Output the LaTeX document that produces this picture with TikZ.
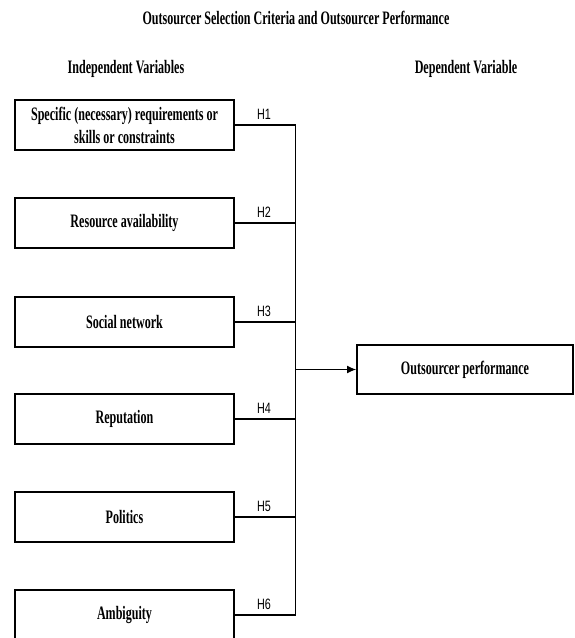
\documentclass[tikz,border=0pt]{standalone}
\usepackage{fontspec}
\setmainfont{Liberation Serif}
\newfontfamily\condserif[FakeStretch=0.635]{Liberation Serif Bold}
\newfontfamily\condsans[FakeStretch=0.72]{Liberation Sans}
\usetikzlibrary{arrows.meta}
\tikzset{
  serifbold/.style={font=\condserif\fontsize{19}{23}\selectfont},
  varbox/.style={draw, line width=2pt, rectangle, minimum width=219pt, minimum height=50pt, inner sep=0pt, align=center, serifbold},
  outbox/.style={draw, line width=2pt, rectangle, minimum width=216pt, minimum height=49pt, inner sep=0pt, align=center, serifbold},
  heading/.style={inner sep=0pt, serifbold},
  hlabel/.style={inner sep=0pt, font=\condsans\fontsize{15}{17}\selectfont},
  hline/.style={line width=1.8pt},
  vline/.style={line width=1pt},
}
\begin{document}
\begin{tikzpicture}[x=1pt,y=-1pt]
\clip (0,0) rectangle (574,638);
\fill[white] (0,0) rectangle (574,638);
\node[heading] (title) at (296,18) {Outsourcer Selection Criteria and Outsourcer Performance};
\node[heading] (indep) at (126,69) {Independent Variables};
\node[heading] (dep) at (466,69) {Dependent Variable};
\node[varbox] (b1) at (124.5,125) {Specific (necessary) requirements or\\skills or constraints};
\node[varbox] (b2) at (124.5,223) {Resource availability};
\node[varbox] (b3) at (124.5,322) {Social network};
\node[varbox] (b4) at (124.5,419) {Reputation};
\node[varbox] (b5) at (124.5,517) {Politics};
\node[varbox] (b6) at (124.5,615) {Ambiguity};
\node[outbox] (out) at (465,369.5) {Outsourcer performance};
\coordinate (spine) at (295,0);
\draw[hline] (b1.east) -- (b1.east -| spine);
\draw[hline] (b2.east) -- (b2.east -| spine);
\draw[hline] (b3.east) -- (b3.east -| spine);
\draw[hline] (b4.east) -- (b4.east -| spine);
\draw[hline] (b5.east) -- (b5.east -| spine);
\draw[hline] (b6.east) -- (b6.east -| spine);
\draw[vline] ([yshift=0.9pt]b1.east -| spine) -- ([yshift=-0.9pt]b6.east -| spine);
\draw[vline, -{Latex[length=9pt,width=8pt]}] (out.west -| spine) -- (out.west);
\node[hlabel] (h1) at (264,114) {H1};
\node[hlabel] (h2) at (264,212) {H2};
\node[hlabel] (h3) at (264,311) {H3};
\node[hlabel] (h4) at (264,408) {H4};
\node[hlabel] (h5) at (264,506) {H5};
\node[hlabel] (h6) at (264,604) {H6};
\end{tikzpicture}
\end{document}
